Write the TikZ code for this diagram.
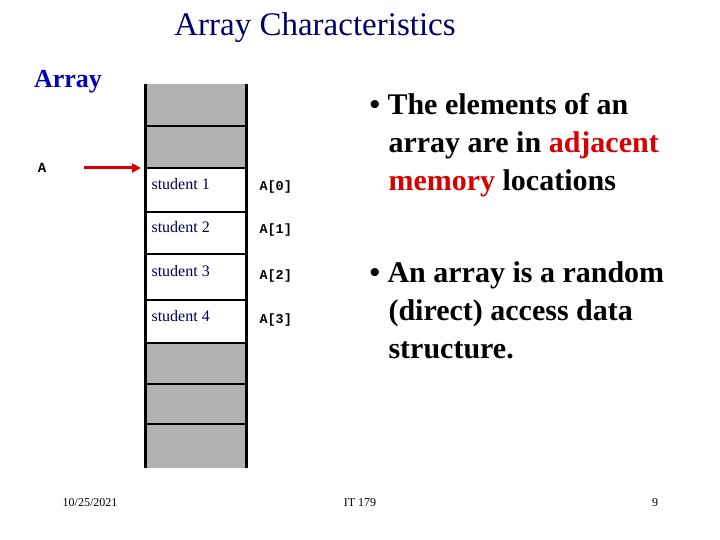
\documentclass[tikz,border=0pt]{standalone}
\usepackage{fontspec}
\usetikzlibrary{arrows.meta}
\setmainfont{Liberation Serif}
\newfontfamily\monof{Liberation Mono}
\begin{document}
\begin{tikzpicture}[x=1pt,y=-1pt,
  cellg/.style={fill=black!30},
  lbl/.style={font=\monof\bfseries\fontsize{13.5}{15}\selectfont,anchor=west},
  stu/.style={font=\fontsize{16}{18}\selectfont,text=blue!30!black,anchor=west},
  bul/.style={font=\bfseries\fontsize{30}{38}\selectfont,text=black,anchor=north west,align=left}]
\useasboundingbox (0,0) rectangle (720,540);
\node[font=\fontsize{33}{36}\selectfont,text=blue!40!black] (title) at (315,28) {Array Characteristics};
\node[font=\bfseries\fontsize{26}{30}\selectfont,text=blue!75!black] (arr) at (68,82) {Array};
\node[font=\monof\bfseries\fontsize{14}{16}\selectfont] (A) at (42,168) {A};
\fill[cellg] (145,84) rectangle (246,168);
\fill[cellg] (145,343) rectangle (246,468);
\foreach \y in {126,168,212,254,300,343,384,424}{\draw[line width=2pt] (145,\y) -- (246,\y);}
\draw[line width=3pt] (145,84) -- (145,468) (246,84) -- (246,468);
\coordinate (as) at (84,168);
\coordinate (ae) at (141,168);
\draw[red!85!black,line width=3pt,-{Triangle[length=9pt,width=9pt]}] (as) -- (ae);
\node[stu] (s1) at (148,184) {student 1};
\node[stu] (s2) at (148,227) {student 2};
\node[stu] (s3) at (148,271) {student 3};
\node[stu] (s4) at (148,316) {student 4};
\node[lbl] (a0) at (256,187) {A[0]};
\node[lbl] (a1) at (256,230) {A[1]};
\node[lbl] (a2) at (256,276) {A[2]};
\node[lbl] (a3) at (256,320) {A[3]};
\node[bul] (b1) at (366,90) {\textbullet\ The elements of an\\\hspace{19pt}array are in {\color{red!85!black}adjacent}\\\hspace{19pt}{\color{red!85!black}memory} locations};
\node[bul] (b2) at (366,258) {\textbullet\ An array is a random\\\hspace{19pt}(direct) access data\\\hspace{19pt}structure.};
\node[font=\fontsize{12}{14}\selectfont] (d) at (90,503) {10/25/2021};
\node[font=\fontsize{12}{14}\selectfont] (it) at (360,503) {IT 179};
\node[font=\fontsize{12}{14}\selectfont] (n) at (655,503) {9};
\end{tikzpicture}
\end{document}
